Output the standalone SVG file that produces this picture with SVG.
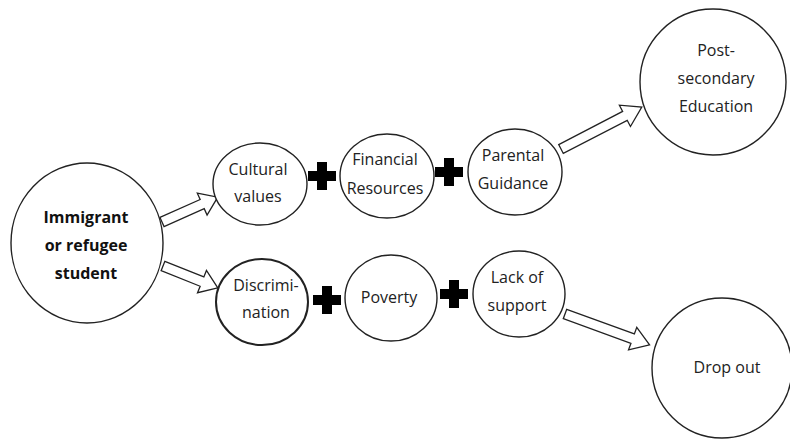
<svg xmlns="http://www.w3.org/2000/svg" width="790" height="445" viewBox="0 0 790 445">
<style>
.n{fill:#fff;stroke:#222;stroke-width:1.4}
.t{font-family:"Open Sans","Liberation Sans",sans-serif;font-size:16px;fill:#222;text-anchor:middle}
.b{font-weight:bold;fill:#111}
.a{fill:#fff;stroke:#222;stroke-width:1.3;stroke-linejoin:miter}
.p{fill:#000}
</style>
<defs>
<path id="plus" d="M-5,-14 H5 V-5 H14 V5 H5 V14 H-5 V5 H-14 V-5 H-5 Z"/>
</defs>
<rect width="790" height="445" fill="#fff"/>
<g id="connectors">
<polygon class="a" transform="translate(162,222) rotate(-24)" points="0,-5 44,-5 44,-12 61,0 44,12 44,5 0,5"/>
<polygon class="a" transform="translate(163,266) rotate(21.8)" points="0,-5 42,-5 42,-12 59,0 42,12 42,5 0,5"/>
<polygon class="a" transform="translate(561,149) rotate(-27.4)" points="0,-5 72,-5 72,-12 91,0 72,12 72,5 0,5"/>
<polygon class="a" transform="translate(565,314) rotate(20)" points="0,-5 72,-5 72,-12 90,0 72,12 72,5 0,5"/>
<use href="#plus" class="p" x="322" y="176"/>
<use href="#plus" class="p" x="449" y="172"/>
<use href="#plus" class="p" x="327" y="300"/>
<use href="#plus" class="p" x="454" y="294"/>
</g>
<g id="immigrant">
<ellipse class="n" cx="87" cy="243" rx="76" ry="80"/>
<text class="t b" x="86" y="223">Immigrant</text>
<text class="t b" x="86" y="251">or refugee</text>
<text class="t b" x="86" y="279">student</text>
</g>
<g id="cultural">
<ellipse class="n" cx="260" cy="184" rx="47" ry="41"/>
<text class="t" x="258" y="175">Cultural</text>
<text class="t" x="258" y="202">values</text>
</g>
<g id="financial">
<ellipse class="n" cx="387" cy="176" rx="47" ry="42"/>
<text class="t" x="385" y="165">Financial</text>
<text class="t" x="385" y="194">Resources</text>
</g>
<g id="parental">
<ellipse class="n" cx="515" cy="172" rx="47" ry="43"/>
<text class="t" x="513" y="161">Parental</text>
<text class="t" x="513" y="189">Guidance</text>
</g>
<g id="postsecondary">
<circle class="n" cx="713" cy="82" r="73"/>
<text class="t" x="716" y="56">Post-</text>
<text class="t" x="716" y="84">secondary</text>
<text class="t" x="716" y="112">Education</text>
</g>
<g id="discrimination">
<ellipse class="n" cx="262" cy="302" rx="46" ry="43" style="stroke-width:2"/>
<text class="t" x="266" y="291">Discrimi-</text>
<text class="t" x="266" y="318">nation</text>
</g>
<g id="poverty">
<ellipse class="n" cx="391" cy="298" rx="46" ry="43"/>
<text class="t" x="389" y="303">Poverty</text>
</g>
<g id="lack">
<ellipse class="n" cx="519" cy="294" rx="46" ry="43"/>
<text class="t" x="517" y="283">Lack of</text>
<text class="t" x="517" y="311">support</text>
</g>
<g id="dropout">
<circle class="n" cx="722" cy="368" r="70"/>
<text class="t" x="727" y="373">Drop out</text>
</g>
</svg>
